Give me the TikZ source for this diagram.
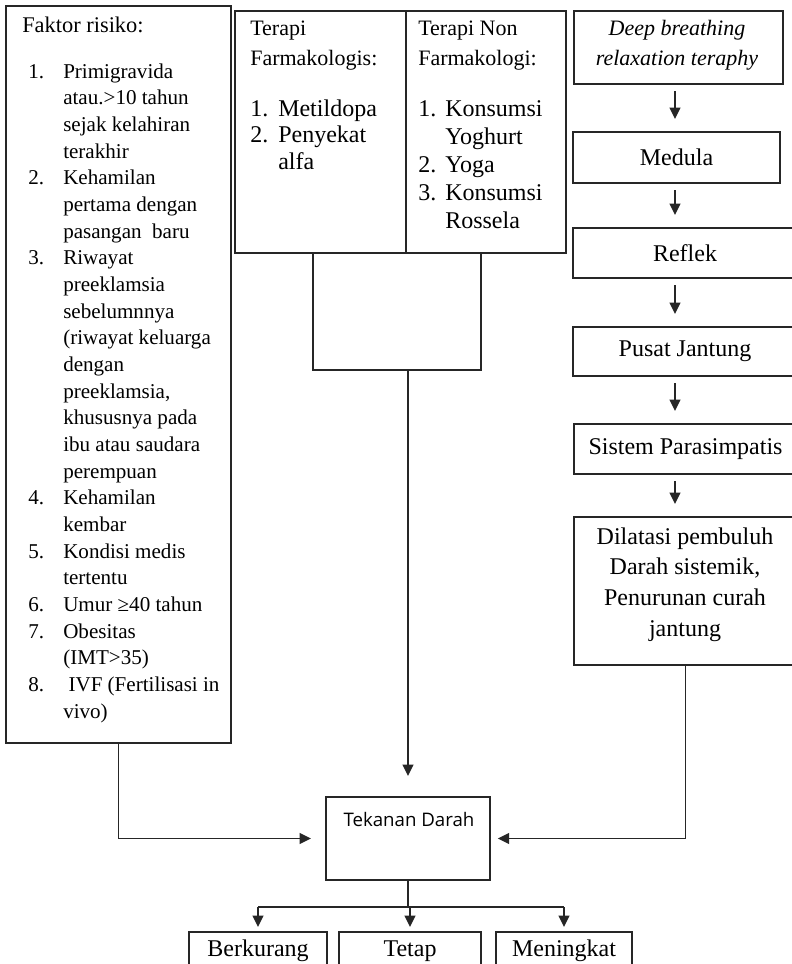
\documentclass[tikz,border=0pt]{standalone}
\usepackage{fontspec}
\setmainfont{Liberation Serif}
\newfontfamily\tdfont{Open Sans}
\usetikzlibrary{arrows.meta, positioning, calc}

\begin{document}
\begin{tikzpicture}[x=0.75pt, y=-0.75pt,
    box/.style={draw=black!85, line width=1.5pt, inner sep=0pt, anchor=north west},
    rbox/.style={box, font=\fontsize{18}{23}\selectfont},
    line/.style={draw=black!85, line width=1.4pt},
    arr/.style={line, -{Triangle[length=8.5pt,width=8pt]}},
    txt/.style={inner sep=0pt, anchor=base west}]
            \useasboundingbox (0,0) rectangle (792,964);
            \clip (0,0) rectangle (792,964);

            % Faktor risiko
            \node[box, minimum width=168.75pt, minimum height=552.75pt] (risk) at (5,5) {};
            \node[txt, font=\fontsize{16.8}{20}\selectfont] (risktitle) at (22,32) {Faktor risiko:};
            \node[txt, font=\fontsize{15.8}{20}\selectfont] (risklist) at (28,78) {\begin{tabular}[t]{@{}p{26.25pt}@{}l@{}}
                1. & Primigravida\\
                   & atau.>10 tahun\\
                   & sejak kelahiran\\
                   & terakhir\\
                2. & Kehamilan\\
                   & pertama dengan\\
                   & pasangan\ \ baru\\
                3. & Riwayat\\
                   & preeklamsia\\
                   & sebelumnnya\\
                   & (riwayat keluarga\\
                   & dengan\\
                   & preeklamsia,\\
                   & khususnya pada\\
                   & ibu atau saudara\\
                   & perempuan\\
                4. & Kehamilan\\
                   & kembar\\
                5. & Kondisi medis\\
                   & tertentu\\
                6. & Umur ≥40 tahun\\
                7. & Obesitas\\
                   & (IMT>35)\\
                8. & \ IVF (Fertilisasi in\\
                   & vivo)
            \end{tabular}};

            % Terapi
            \node[box, minimum width=128.25pt, minimum height=181.5pt] (farm) at (234,10) {};
            \node[box, minimum width=120pt, minimum height=181.5pt] (nonfarm) at (405,10) {};
            \node[txt, font=\fontsize{16.5}{22.5}\selectfont] (farmtitle) at (250,35) {\begin{tabular}[t]{@{}l@{}}Terapi\\Farmakologis:\end{tabular}};
            \node[txt, font=\fontsize{18}{20}\selectfont] (farmlist) at (250,116) {\begin{tabular}[t]{@{}p{21pt}@{}l@{}}
                1. & Metildopa\\
                2. & Penyekat\\
                   & alfa
            \end{tabular}};
            \node[txt, font=\fontsize{16.5}{22.5}\selectfont] (nontitle) at (418,35) {\begin{tabular}[t]{@{}l@{}}Terapi Non\\Farmakologi:\end{tabular}};
            \node[txt, font=\fontsize{18}{21}\selectfont] (nonlist) at (418,116) {\begin{tabular}[t]{@{}p{20.25pt}@{}l@{}}
                1. & Konsumsi\\
                   & Yoghurt\\
                2. & Yoga\\
                3. & Konsumsi\\
                   & Rossela
            \end{tabular}};

            % Deep breathing
            \node[box, minimum width=156.75pt, minimum height=54.75pt] (dbr) at (573,10) {};
            \node[inner sep=0pt, anchor=base, font=\fontsize{16.5}{22.5}\selectfont\itshape] (dbrtext) at (677,35) {\begin{tabular}[t]{@{}c@{}}Deep breathing\\relaxation teraphy\end{tabular}};
            \node[rbox, minimum width=155.25pt, minimum height=38.25pt] (medula) at (572,131) {Medula};
            \node[rbox, minimum width=168pt, minimum height=37.5pt] (reflek) at (572,227) {Reflek};
            \node[rbox, minimum width=168pt, minimum height=36.75pt] (pusat) at (572,326) {Pusat Jantung};
            \node[rbox, minimum width=167.25pt, minimum height=37.5pt] (sistem) at (573,423) {Sistem Parasimpatis};
            \node[box, minimum width=167.25pt, minimum height=111pt] (dil) at (573,516) {};
            \node[inner sep=0pt, anchor=base, font=\fontsize{18}{23}\selectfont] (diltext) at (685,544) {\begin{tabular}[t]{@{}c@{}}Dilatasi pembuluh\\Darah sistemik,\\Penurunan curah\\jantung\end{tabular}};

            \coordinate (colx) at (675,0);
            \foreach \a/\b in {dbr/medula, medula/reflek, reflek/pusat, pusat/sistem, sistem/dil}
                \draw[arr, shorten <=4.5pt, shorten >=9pt] (\a.south -| colx) -- (\b.north -| colx);

            % Tekanan Darah
            \node[box, minimum width=123pt, minimum height=62.25pt] (td) at (325,796) {};
            \node[inner sep=0pt, anchor=base, font=\tdfont\fontsize{14}{17}\selectfont] (tdtext) at (409,826) {Tekanan Darah};
            \node[box, minimum width=103.5pt, minimum height=36.75pt] (berk) at (188,931) {};
            \node[box, minimum width=106.5pt, minimum height=36.75pt] (tetap) at (338,931) {};
            \node[box, minimum width=102pt, minimum height=36.75pt] (mening) at (495,931) {};
            \foreach \b/\t in {berk/Berkurang, tetap/Tetap, mening/Meningkat}
                \node[inner sep=0pt, anchor=base, font=\fontsize{18}{23}\selectfont] (\b text) at (\b.north |- 0,956) {\t};

            % Connectors
            \draw[line] ([xshift=-5.5pt]farm.south) -- ++(0,116) coordinate (fb) -| ([xshift=-4pt]nonfarm.south);
            \draw[arr, shorten >=15pt] (fb -| td.north) -- (td.north);
            \draw[arr, shorten >=10.5pt] (risk.south) |- (td.west);
            \draw[arr, shorten >=5pt] (dil.south) |- (td.east);
            \draw[line] (td.south) -- ++(0,26) coordinate (split);
            \draw[line] (split -| berk.north) -- (split -| mening.north);
            \foreach \b in {berk, tetap, mening}
                \draw[arr, shorten >=3pt] (split -| \b.north) -- (\b.north);
        \end{tikzpicture}
\end{document}
